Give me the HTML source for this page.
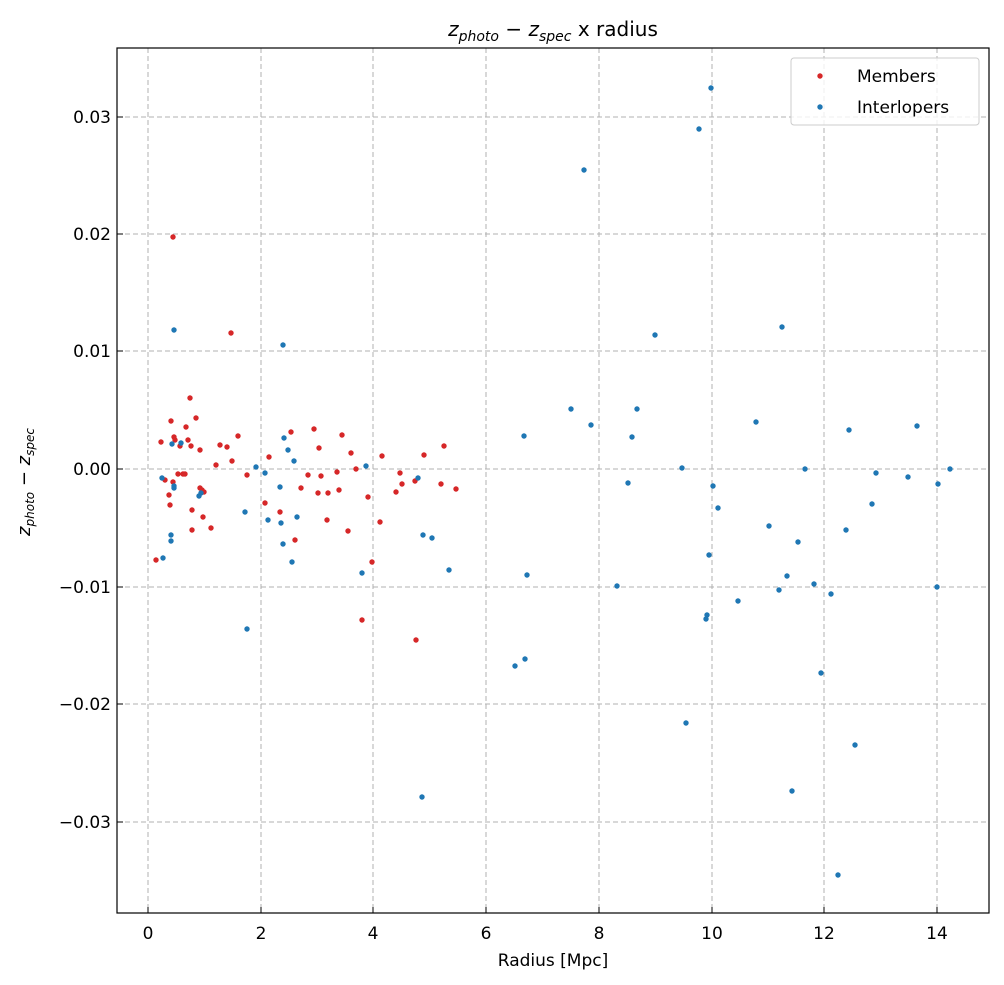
<!DOCTYPE html>
<html><head><meta charset="utf-8"><style>body{margin:0;background:#fff}svg{display:block}text{font-family:"DejaVu Sans","Liberation Sans",sans-serif;fill:#000}</style></head><body>
<svg width="1004" height="985" xmlns="http://www.w3.org/2000/svg">
<g stroke="#b0b0b0" stroke-dasharray="5,3" stroke-width="1">
<line x1="148" y1="48" x2="148" y2="913"/><line x1="261" y1="48" x2="261" y2="913"/><line x1="373" y1="48" x2="373" y2="913"/><line x1="486" y1="48" x2="486" y2="913"/><line x1="599" y1="48" x2="599" y2="913"/><line x1="712" y1="48" x2="712" y2="913"/><line x1="824" y1="48" x2="824" y2="913"/><line x1="937" y1="48" x2="937" y2="913"/>
<line x1="117" y1="117" x2="989" y2="117"/><line x1="117" y1="234" x2="989" y2="234"/><line x1="117" y1="351" x2="989" y2="351"/><line x1="117" y1="469" x2="989" y2="469"/><line x1="117" y1="587" x2="989" y2="587"/><line x1="117" y1="704" x2="989" y2="704"/><line x1="117" y1="822" x2="989" y2="822"/>
</g>
<g fill="#d62728">
<circle cx="156" cy="560" r="2.7"/><circle cx="161" cy="442" r="2.7"/><circle cx="165" cy="480" r="2.7"/><circle cx="169" cy="495" r="2.7"/><circle cx="170" cy="505" r="2.7"/><circle cx="171" cy="421" r="2.7"/><circle cx="173" cy="482" r="2.7"/><circle cx="174" cy="437" r="2.7"/><circle cx="175" cy="440" r="2.7"/><circle cx="178" cy="474" r="2.7"/><circle cx="180" cy="446" r="2.7"/><circle cx="183" cy="474" r="2.7"/><circle cx="185" cy="474" r="2.7"/><circle cx="186" cy="427" r="2.7"/><circle cx="188" cy="440" r="2.7"/><circle cx="190" cy="398" r="2.7"/><circle cx="191" cy="446" r="2.7"/><circle cx="192" cy="530" r="2.7"/><circle cx="192" cy="510" r="2.7"/><circle cx="196" cy="418" r="2.7"/><circle cx="200" cy="450" r="2.7"/><circle cx="200" cy="488" r="2.7"/><circle cx="202" cy="490" r="2.7"/><circle cx="203" cy="517" r="2.7"/><circle cx="204" cy="492" r="2.7"/><circle cx="211" cy="528" r="2.7"/><circle cx="216" cy="465" r="2.7"/><circle cx="220" cy="445" r="2.7"/><circle cx="227" cy="447" r="2.7"/><circle cx="231" cy="333" r="2.7"/><circle cx="232" cy="461" r="2.7"/><circle cx="238" cy="436" r="2.7"/><circle cx="247" cy="475" r="2.7"/><circle cx="265" cy="503" r="2.7"/><circle cx="269" cy="457" r="2.7"/><circle cx="280" cy="512" r="2.7"/><circle cx="291" cy="432" r="2.7"/><circle cx="295" cy="540" r="2.7"/><circle cx="301" cy="488" r="2.7"/><circle cx="308" cy="475" r="2.7"/><circle cx="314" cy="429" r="2.7"/><circle cx="318" cy="493" r="2.7"/><circle cx="319" cy="448" r="2.7"/><circle cx="321" cy="476" r="2.7"/><circle cx="327" cy="520" r="2.7"/><circle cx="328" cy="493" r="2.7"/><circle cx="337" cy="472" r="2.7"/><circle cx="339" cy="490" r="2.7"/><circle cx="342" cy="435" r="2.7"/><circle cx="348" cy="531" r="2.7"/><circle cx="351" cy="453" r="2.7"/><circle cx="356" cy="469" r="2.7"/><circle cx="362" cy="620" r="2.7"/><circle cx="368" cy="497" r="2.7"/><circle cx="372" cy="562" r="2.7"/><circle cx="380" cy="522" r="2.7"/><circle cx="382" cy="456" r="2.7"/><circle cx="396" cy="492" r="2.7"/><circle cx="400" cy="473" r="2.7"/><circle cx="402" cy="484" r="2.7"/><circle cx="415" cy="481" r="2.7"/><circle cx="416" cy="640" r="2.7"/><circle cx="424" cy="455" r="2.7"/><circle cx="441" cy="484" r="2.7"/><circle cx="444" cy="446" r="2.7"/><circle cx="456" cy="489" r="2.7"/><circle cx="173" cy="237" r="2.7"/>
</g>
<g fill="#1f77b4">
<circle cx="162" cy="478" r="2.7"/><circle cx="163" cy="558" r="2.7"/><circle cx="171" cy="541" r="2.7"/><circle cx="171" cy="535" r="2.7"/><circle cx="172" cy="444" r="2.7"/><circle cx="174" cy="486" r="2.7"/><circle cx="174" cy="330" r="2.7"/><circle cx="174" cy="488" r="2.7"/><circle cx="181" cy="443" r="2.7"/><circle cx="199" cy="496" r="2.7"/><circle cx="201" cy="493" r="2.7"/><circle cx="245" cy="512" r="2.7"/><circle cx="247" cy="629" r="2.7"/><circle cx="256" cy="467" r="2.7"/><circle cx="265" cy="473" r="2.7"/><circle cx="268" cy="520" r="2.7"/><circle cx="280" cy="487" r="2.7"/><circle cx="281" cy="523" r="2.7"/><circle cx="283" cy="544" r="2.7"/><circle cx="283" cy="345" r="2.7"/><circle cx="284" cy="438" r="2.7"/><circle cx="288" cy="450" r="2.7"/><circle cx="292" cy="562" r="2.7"/><circle cx="294" cy="461" r="2.7"/><circle cx="297" cy="517" r="2.7"/><circle cx="362" cy="573" r="2.7"/><circle cx="366" cy="466" r="2.7"/><circle cx="418" cy="478" r="2.7"/><circle cx="422" cy="797" r="2.7"/><circle cx="423" cy="535" r="2.7"/><circle cx="432" cy="538" r="2.7"/><circle cx="449" cy="570" r="2.7"/><circle cx="515" cy="666" r="2.7"/><circle cx="524" cy="436" r="2.7"/><circle cx="525" cy="659" r="2.7"/><circle cx="527" cy="575" r="2.7"/><circle cx="571" cy="409" r="2.7"/><circle cx="584" cy="170" r="2.7"/><circle cx="591" cy="425" r="2.7"/><circle cx="617" cy="586" r="2.7"/><circle cx="628" cy="483" r="2.7"/><circle cx="632" cy="437" r="2.7"/><circle cx="637" cy="409" r="2.7"/><circle cx="655" cy="335" r="2.7"/><circle cx="682" cy="468" r="2.7"/><circle cx="686" cy="723" r="2.7"/><circle cx="699" cy="129" r="2.7"/><circle cx="707" cy="615" r="2.7"/><circle cx="706" cy="619" r="2.7"/><circle cx="709" cy="555" r="2.7"/><circle cx="711" cy="88" r="2.7"/><circle cx="713" cy="486" r="2.7"/><circle cx="718" cy="508" r="2.7"/><circle cx="738" cy="601" r="2.7"/><circle cx="756" cy="422" r="2.7"/><circle cx="769" cy="526" r="2.7"/><circle cx="779" cy="590" r="2.7"/><circle cx="782" cy="327" r="2.7"/><circle cx="787" cy="576" r="2.7"/><circle cx="792" cy="791" r="2.7"/><circle cx="798" cy="542" r="2.7"/><circle cx="805" cy="469" r="2.7"/><circle cx="814" cy="584" r="2.7"/><circle cx="821" cy="673" r="2.7"/><circle cx="831" cy="594" r="2.7"/><circle cx="838" cy="875" r="2.7"/><circle cx="846" cy="530" r="2.7"/><circle cx="849" cy="430" r="2.7"/><circle cx="855" cy="745" r="2.7"/><circle cx="872" cy="504" r="2.7"/><circle cx="876" cy="473" r="2.7"/><circle cx="908" cy="477" r="2.7"/><circle cx="917" cy="426" r="2.7"/><circle cx="937" cy="587" r="2.7"/><circle cx="938" cy="484" r="2.7"/><circle cx="950" cy="469" r="2.7"/>
</g>
<rect x="117" y="48" width="872" height="865" fill="none" stroke="#000" stroke-width="1.2"/>
<g stroke="#000" stroke-width="1">
<line x1="148" y1="913" x2="148" y2="907"/><line x1="261" y1="913" x2="261" y2="907"/><line x1="373" y1="913" x2="373" y2="907"/><line x1="486" y1="913" x2="486" y2="907"/><line x1="599" y1="913" x2="599" y2="907"/><line x1="712" y1="913" x2="712" y2="907"/><line x1="824" y1="913" x2="824" y2="907"/><line x1="937" y1="913" x2="937" y2="907"/>
<line x1="117" y1="117" x2="123" y2="117"/><line x1="117" y1="234" x2="123" y2="234"/><line x1="117" y1="351" x2="123" y2="351"/><line x1="117" y1="469" x2="123" y2="469"/><line x1="117" y1="587" x2="123" y2="587"/><line x1="117" y1="704" x2="123" y2="704"/><line x1="117" y1="822" x2="123" y2="822"/>
</g>
<g font-size="17" text-anchor="middle">
<text x="148" y="939">0</text><text x="261" y="939">2</text><text x="373" y="939">4</text><text x="486" y="939">6</text><text x="599" y="939">8</text><text x="712" y="939">10</text><text x="824" y="939">12</text><text x="937" y="939">14</text>
</g>
<g font-size="17" text-anchor="end">
<text x="111" y="123">0.03</text><text x="111" y="240">0.02</text><text x="111" y="357">0.01</text><text x="111" y="475">0.00</text><text x="111" y="593">−0.01</text><text x="111" y="710">−0.02</text><text x="111" y="828">−0.03</text>
</g>
<text x="553" y="966" font-size="17" text-anchor="middle">Radius [Mpc]</text>
<text transform="translate(30,482) rotate(-90)" font-size="18" text-anchor="middle"><tspan font-style="italic">z</tspan><tspan font-size="12" font-style="italic" dy="4">photo</tspan><tspan dy="-4"> − </tspan><tspan font-style="italic">z</tspan><tspan font-size="12" font-style="italic" dy="4">spec</tspan></text>
<text x="553" y="36" font-size="20" text-anchor="middle"><tspan font-style="italic">z</tspan><tspan font-size="14" font-style="italic" dy="5">photo</tspan><tspan dy="-5"> − </tspan><tspan font-style="italic">z</tspan><tspan font-size="14" font-style="italic" dy="5">spec</tspan><tspan dy="-5"> x radius</tspan></text>
<rect x="791" y="58" width="188" height="67" rx="3" fill="#fff" fill-opacity="0.8" stroke="#ccc"/>
<circle cx="820" cy="76" r="2.7" fill="#d62728"/><text x="857" y="82" font-size="17">Members</text>
<circle cx="820" cy="107" r="2.7" fill="#1f77b4"/><text x="857" y="113" font-size="17">Interlopers</text>
</svg>
</body></html>
